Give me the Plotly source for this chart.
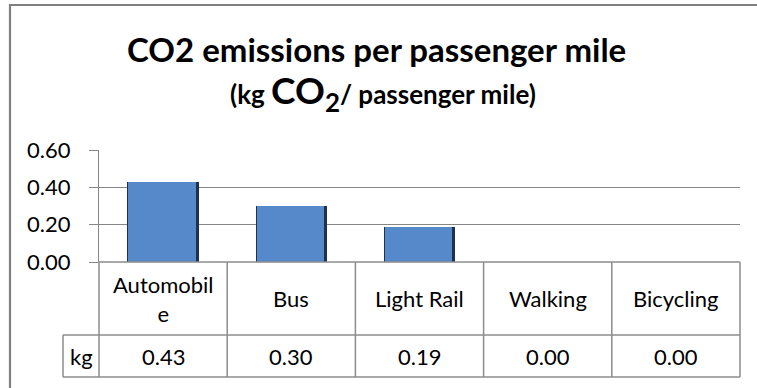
import plotly.graph_objects as go

# Data
categories = ["Automobile", "Bus", "Light Rail", "Walking", "Bicycling"]
header_labels = ["Automobil<br>e", "Bus", "Light Rail", "Walking", "Bicycling"]
kg_per_mile = [0.43, 0.30, 0.19, 0.00, 0.00]
series_name = "kg"
y_ticks = [0.0, 0.2, 0.4, 0.6]

# Layout geometry (pixels)
W, H = 757, 388
ML, MR, MT, MB = 99, 17, 150, 126
PW, PH = W - ML - MR, H - MT - MB
FONT = "Lato, Open Sans, sans-serif"
GRID = "#868686"
TABLE = "#8c8c8c"


def px(xp):
    return (xp - ML) / PW


def py(yp):
    return (H - MB - yp) / PH


n = len(categories)
x_idx = list(range(n))

fig = go.Figure()
# dark bevel body behind each column
fig.add_trace(go.Bar(
    x=x_idx, y=kg_per_mile, width=0.556, offset=-0.278,
    marker=dict(color="#1d3150", line=dict(width=0)),
    hoverinfo="skip", showlegend=False,
))
# lit face of each column
fig.add_trace(go.Bar(
    x=x_idx, y=kg_per_mile, width=0.527, offset=-0.270,
    marker=dict(color="#5589c9", line=dict(width=0)),
    name=series_name, showlegend=False,
))

shapes = []
# outer chart frame; its right and bottom edges fall past the page
shapes.append(dict(type="rect", xref="paper", yref="paper",
                   x0=px(10), x1=px(790), y0=py(5), y1=py(420),
                   line=dict(color="#808080", width=2.2),
                   fillcolor="rgba(0,0,0,0)", layer="below"))

# data table under the plot
row1_bot = py(335)
row2_bot = py(377)
kg_left = px(63)
for k in range(n + 1):
    xk = k / n
    shapes.append(dict(type="line", xref="paper", yref="paper",
                       x0=xk, x1=xk, y0=0, y1=row2_bot,
                       line=dict(color=TABLE, width=1.5)))
shapes.append(dict(type="line", xref="paper", yref="paper",
                   x0=kg_left, x1=1, y0=row1_bot, y1=row1_bot,
                   line=dict(color=TABLE, width=1.5)))
shapes.append(dict(type="line", xref="paper", yref="paper",
                   x0=kg_left, x1=1, y0=row2_bot, y1=row2_bot,
                   line=dict(color=TABLE, width=1.5)))
shapes.append(dict(type="line", xref="paper", yref="paper",
                   x0=kg_left, x1=kg_left, y0=row1_bot, y1=row2_bot,
                   line=dict(color=TABLE, width=1.5)))
shapes.append(dict(type="line", xref="paper", yref="paper",
                   x0=0, x1=1, y0=0, y1=0,
                   line=dict(color=TABLE, width=1.5)))

annotations = []
row1_mid = (0 + row1_bot) / 2
row2_mid = (row1_bot + row2_bot) / 2
for k in range(n):
    xc = (k + 0.5) / n
    annotations.append(dict(xref="paper", yref="paper", x=xc, y=row1_mid,
                            text=header_labels[k], showarrow=False,
                            font=dict(family=FONT, size=22, color="black"),
                            xanchor="center", yanchor="middle"))
    annotations.append(dict(xref="paper", yref="paper", x=xc, y=row2_mid,
                            text=f"{kg_per_mile[k]:.2f}", showarrow=False,
                            font=dict(family=FONT, size=22, color="black"),
                            xanchor="center", yanchor="middle"))
annotations.append(dict(xref="paper", yref="paper", x=(kg_left + 0) / 2, y=row2_mid,
                        text=series_name, showarrow=False,
                        font=dict(family=FONT, size=22, color="black"),
                        xanchor="center", yanchor="middle"))

# titles
annotations.append(dict(xref="paper", yref="paper", x=px(376), y=py(49),
                        text="<b>CO2 emissions per passenger mile</b>",
                        showarrow=False, xanchor="center", yanchor="middle",
                        font=dict(family=FONT, size=33, color="black")))
annotations.append(dict(xref="paper", yref="paper", x=px(383), y=py(92),
                        text="<b>(kg <span style='font-size:37px'>CO<sub>2</sub></span>/ passenger mile)</b>",
                        showarrow=False, xanchor="center", yanchor="middle",
                        font=dict(family=FONT, size=26, color="black")))

fig.update_layout(
    width=W, height=H,
    margin=dict(l=ML, r=MR, t=MT, b=MB, pad=0),
    paper_bgcolor="white", plot_bgcolor="white",
    barmode="overlay", bargap=0,
    shapes=shapes, annotations=annotations,
    font=dict(family=FONT, color="black"),
    xaxis=dict(range=[-0.5, n - 0.5], showticklabels=False, showgrid=False,
               zeroline=False, showline=False, ticks="", fixedrange=True),
    yaxis=dict(range=[0, 0.6], tickvals=y_ticks,
               ticktext=[f"{v:.2f}" for v in y_ticks],
               showgrid=True, gridcolor=GRID, gridwidth=1.3,
               zeroline=False, showline=True, linecolor=GRID, linewidth=1.3,
               ticks="outside", ticklen=9, tickcolor=GRID, tickwidth=1.3,
               ticklabelstandoff=14,
               tickfont=dict(family=FONT, size=22, color="black"),
               fixedrange=True),
)

fig.write_html(
    "out.html",
    config={"displayModeBar": False},
    post_script="document.documentElement.style.overflow='hidden';"
                "document.body.style.overflow='hidden';"
                "document.body.style.margin='0';",
)
